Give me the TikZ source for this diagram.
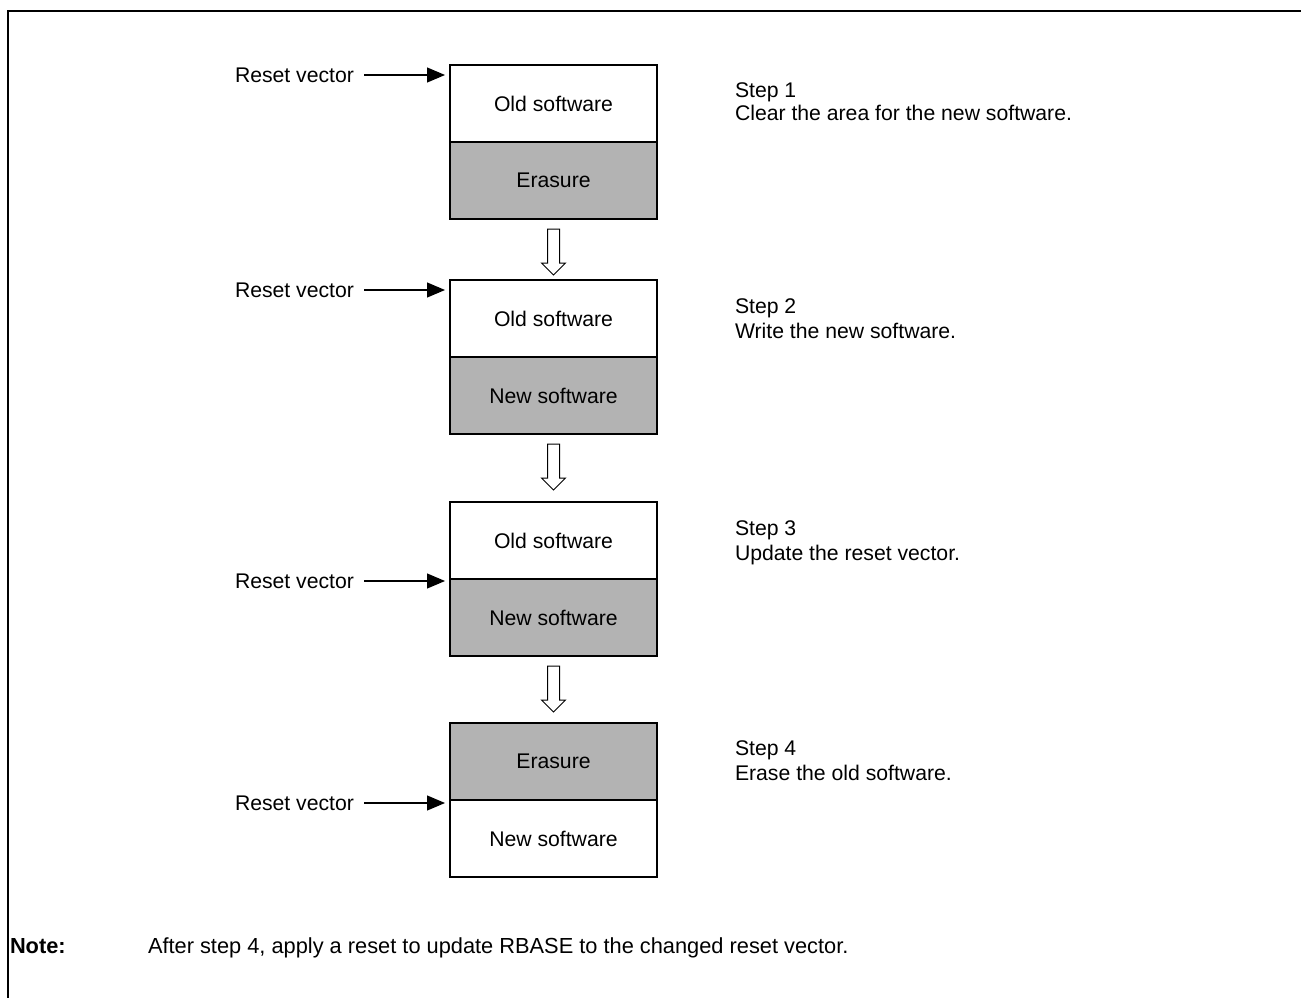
\documentclass[tikz,border=0pt]{standalone}
\usepackage{fontspec}
\setmainfont{Liberation Sans}
\usetikzlibrary{arrows.meta}
\definecolor{memgray}{RGB}{179,179,179}
\begin{document}
\begin{tikzpicture}[x=1pt,y=-1pt,
  font=\fontsize{21.2}{25}\selectfont,
  region/.style={draw, line width=2.2pt, minimum width=207pt, minimum height=77pt,
    inner sep=0pt, outer sep=0pt, anchor=north west},
  plain/.style={region, fill=white},
  shaded/.style={region, fill=memgray},
  vlabel/.style={anchor=west, inner sep=0pt, outer sep=0pt},
  vecarrow/.style={line width=1.1pt, -{Triangle[length=18pt,width=15pt]}},
  txt/.style={anchor=base west, inner sep=0pt, outer sep=0pt},
  notetxt/.style={txt, font=\fontsize{21.8}{26}\selectfont},
  hollowdown/.pic={
    \draw[line width=1pt, fill=white]
      (-6,10) -- (-6,44) -- (-12,44) -- (0,56) -- (12,44) -- (6,44) -- (6,10) -- cycle;
  },
]
\useasboundingbox (0,0) rectangle (1301,998);

% frame
\draw[line width=2pt] (8,998) -- (8,11) -- (1301,11);

% step 1
\node[plain]  (b1t) at (450,65)  {Old software};
\node[shaded] (b1b) at (b1t.south west) {Erasure};
% step 2
\node[plain]  (b2t) at (450,280) {Old software};
\node[shaded] (b2b) at (b2t.south west) {New software};
% step 3
\node[plain]  (b3t) at (450,502) {Old software};
\node[shaded] (b3b) at (b3t.south west) {New software};
% step 4
\node[shaded] (b4t) at (450,723) {Erasure};
\node[plain]  (b4b) at (b4t.south west) {New software};

% flow between the steps
\pic at (b1b.south) {hollowdown};
\pic at (b2b.south) {hollowdown};
\pic at (b3b.south) {hollowdown};

% reset vector pointers
\node[vlabel] (rv1) at (235,75)  {Reset vector};
\node[vlabel] (rv2) at (235,290) {Reset vector};
\node[vlabel] (rv3) at (235,581) {Reset vector};
\node[vlabel] (rv4) at (235,803) {Reset vector};
\draw[vecarrow] ([xshift=10pt]rv1.east) -- ([xshift=-5pt]rv1.east -| b1t.west);
\draw[vecarrow] ([xshift=10pt]rv2.east) -- ([xshift=-5pt]rv2.east -| b2t.west);
\draw[vecarrow] ([xshift=10pt]rv3.east) -- ([xshift=-5pt]rv3.east -| b3t.west);
\draw[vecarrow] ([xshift=10pt]rv4.east) -- ([xshift=-5pt]rv4.east -| b4t.west);

% step descriptions
\node[txt] (s1a) at (735,97)  {Step 1};
\node[txt] (s1b) at (735,120) {Clear the area for the new software.};
\node[txt] (s2a) at (735,313) {Step 2};
\node[txt] (s2b) at (735,338) {Write the new software.};
\node[txt] (s3a) at (735,535) {Step 3};
\node[txt] (s3b) at (735,560) {Update the reset vector.};
\node[txt] (s4a) at (735,755) {Step 4};
\node[txt] (s4b) at (735,780) {Erase the old software.};

% note
\node[notetxt] (nl) at (10,953) {\bfseries Note:};
\node[notetxt] (nt) at (148,953) {After step 4, apply a reset to update RBASE to the changed reset vector.};
\end{tikzpicture}
\end{document}
